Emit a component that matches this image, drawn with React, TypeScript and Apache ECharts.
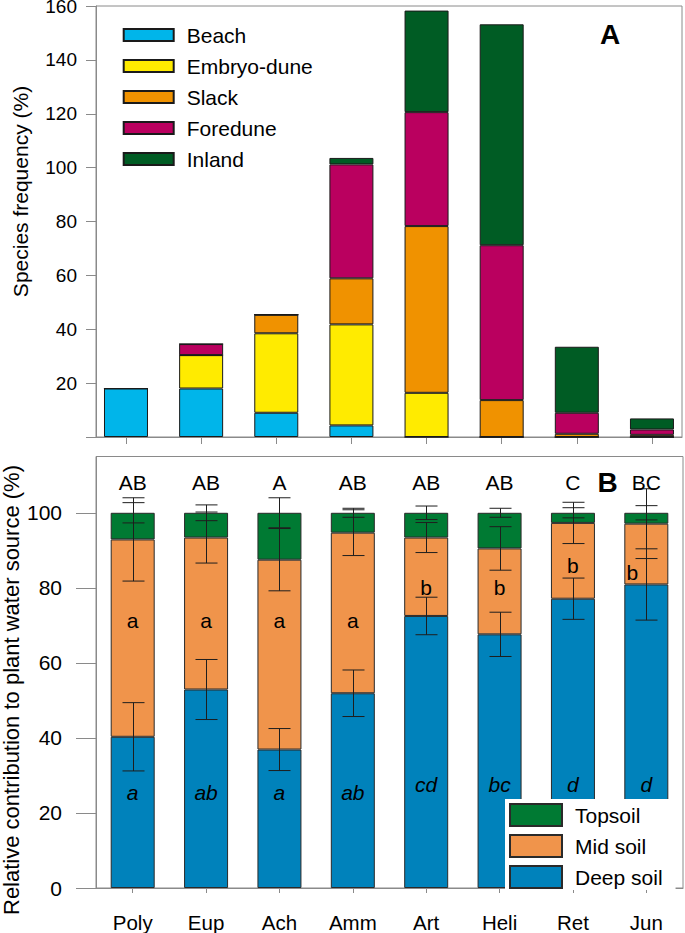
import React, { useEffect, useRef } from "react";
import * as echarts from "echarts";

// ---------- data ----------
const categories = ["Poly", "Eup", "Ach", "Amm", "Art", "Heli", "Ret", "Jun"];

// Panel A: species frequency (%) by habitat
const beach = [18, 18, 9, 4.3, 0, 0, 0, 0];
const embryoDune = [0, 12.4, 29.5, 37.5, 16.4, 0, 0, 0];
const slack = [0, 0, 6.9, 17.1, 61.9, 13.7, 1.2, 0.8];
const foredune = [0, 4.1, 0, 42.3, 42.3, 57.5, 7.8, 2.0];
const inland = [0, 0, 0, 2.4, 37.7, 82, 24.5, 4.1];
const freqTickLabels = [20, 40, 60, 80, 100, 120, 140, 160];

// Panel B: relative contribution to plant water source (%)
const deepSoil = [40.3, 52.9, 36.9, 51.9, 72.5, 67.6, 77.1, 80.9];
const midSoil = [52.6, 40.5, 50.6, 42.8, 20.9, 22.9, 20.2, 16.2];
const topSoil = [7.1, 6.6, 12.5, 5.3, 6.6, 9.5, 2.7, 2.9];
const deepErr = [9.1, 8.0, 5.6, 6.2, 5.0, 5.9, 5.5, 9.5];
const midErr = [11.1, 6.8, 8.3, 6.1, 4.0, 5.8, 5.5, 9.3];
const topErr = [2.7, 2.1, 4.0, 1.2, 1.8, 1.2, 1.35, 1.9];
const contribTickLabels = [0, 20, 40, 60, 80, 100];

const upperLetters = ["AB", "AB", "A", "AB", "AB", "AB", "C", "BC"];
const midLetters = ["a", "a", "a", "a", "b", "b", "b", "b"];
const deepLetters = ["a", "ab", "a", "ab", "cd", "bc", "d", "d"];

// ---------- layout constants (not data) ----------
const FONT = "Liberation Sans";
const upperLetterAt = 108.2;
const midLetterAt = [71.4, 71.4, 71.4, 71.4, 80.2, 80.2, 86.0, 84.2];
const midLetterShift = [0, 0, 0, 0, 0, 0, 0, -14];
const deepLetterAt = [25.4, 25.4, 25.4, 25.4, 27.7, 27.7, 27.7, 27.7];

const AXIS_GRAY = "#8a8a8a";

function buildOption() {
  const idx = categories.map((_, i) => i);

  const cumDeep = deepSoil.slice();
  const cumMid = deepSoil.map((v, i) => v + midSoil[i]);
  const cumTop = cumMid.map((v, i) => v + topSoil[i]);

  const topBar = (name: string, data: number[], color: string) => ({
    name,
    type: "bar",
    xAxisIndex: 2,
    yAxisIndex: 2,
    stack: "freq",
    barWidth: 44,
    data,
    itemStyle: { color, borderColor: "#1a1a1a", borderWidth: 1 },
  });

  const bottomBar = (name: string, data: number[], color: string) => ({
    name,
    type: "bar",
    xAxisIndex: 1,
    yAxisIndex: 1,
    stack: "water",
    barWidth: 44,
    data,
    itemStyle: { color, borderColor: "#2a2a2a", borderWidth: 1 },
  });

  const errSeries = (name: string, tops: number[], errs: number[]) => ({
    name,
    type: "custom",
    xAxisIndex: 1,
    yAxisIndex: 1,
    z: 3,
    data: tops.map((t, i) => [i, t, errs[i]]),
    renderItem: (params: any, api: any) => {
      const x = api.value(0);
      const y = api.value(1);
      const e = api.value(2);
      const hi = api.coord([x, y + e]);
      const lo = api.coord([x, y - e]);
      const cx = Math.round(hi[0]) + 0.5;
      const st = { stroke: "#1e1e1e", lineWidth: 1 };
      return {
        type: "group",
        children: [
          { type: "line", shape: { x1: cx, y1: hi[1], x2: cx, y2: lo[1] }, style: st },
          { type: "line", shape: { x1: cx - 11, y1: hi[1], x2: cx + 11, y2: hi[1] }, style: st },
          { type: "line", shape: { x1: cx - 11, y1: lo[1], x2: cx + 11, y2: lo[1] }, style: st },
        ],
      };
    },
  });

  const txt = (x: number, y: number, text: string, italic = false) => ({
    type: "text",
    x,
    y,
    style: {
      text,
      fill: "#000",
      fontSize: 21,
      fontFamily: FONT,
      fontStyle: italic ? "italic" : "normal",
      align: "center",
      verticalAlign: "middle",
      textAlign: "center",
      textVerticalAlign: "middle",
    },
  });

  const letterSeries = {
    name: "letters",
    type: "custom",
    xAxisIndex: 1,
    yAxisIndex: 1,
    z: 3,
    data: idx.map((i) => [i]),
    renderItem: (params: any, api: any) => {
      const i = params.dataIndex;
      const cx = api.coord([i, 0])[0];
      const yU = api.coord([i, upperLetterAt])[1];
      const yM = api.coord([i, midLetterAt[i]])[1];
      const yD = api.coord([i, deepLetterAt[i]])[1];
      return {
        type: "group",
        children: [
          txt(cx, yU, upperLetters[i]),
          txt(cx + midLetterShift[i], yM, midLetters[i]),
          txt(cx, yD, deepLetters[i], true),
        ],
      };
    },
  };

  const rotTitle = (x: number, y: number, text: string, fontSize: number) => ({
    type: "text",
    x,
    y,
    rotation: Math.PI / 2,
    style: {
      text,
      fontSize,
      fontFamily: FONT,
      fill: "#000",
      align: "center",
      verticalAlign: "middle",
      textAlign: "center",
      textVerticalAlign: "middle",
    },
  });

  const panelTag = (x: number, y: number, text: string) => ({
    type: "text",
    x,
    y,
    z: 10,
    style: {
      text,
      fontSize: 28,
      fontWeight: "bold",
      fontFamily: FONT,
      fill: "#000",
      align: "center",
      verticalAlign: "middle",
      textAlign: "center",
      textVerticalAlign: "middle",
    },
  });

  return {
    animation: false,
    backgroundColor: "#fff",
    textStyle: { fontFamily: FONT, color: "#000" },
    grid: [
      // 0: panel A frame + y axis
      {
        left: 96,
        top: 6,
        width: 586,
        height: 431,
        show: true,
        borderColor: AXIS_GRAY,
        borderWidth: 1,
        containLabel: false,
        outerBoundsMode: "none",
      },
      // 1: panel B
      {
        left: 96,
        top: 456.5,
        width: 587,
        height: 431.5,
        show: true,
        borderColor: AXIS_GRAY,
        borderWidth: 1,
        containLabel: false,
        outerBoundsMode: "none",
      },
      // 2: panel A bars (category bands)
      {
        left: 88.43,
        top: 6,
        width: 601.1,
        height: 431,
        show: false,
        containLabel: false,
        outerBoundsMode: "none",
      },
    ],
    xAxis: [
      {
        type: "value",
        gridIndex: 0,
        min: 0,
        max: 1,
        axisLine: { show: true, onZero: false, lineStyle: { color: AXIS_GRAY, width: 1 } },
        axisTick: { show: false },
        axisLabel: { show: false },
        splitLine: { show: false },
      },
      {
        type: "category",
        gridIndex: 1,
        data: categories,
        axisLine: { show: true, onZero: false, lineStyle: { color: AXIS_GRAY, width: 1 } },
        axisTick: {
          show: true,
          alignWithLabel: true,
          length: 5,
          lineStyle: { color: AXIS_GRAY },
        },
        axisLabel: { fontSize: 20.5, margin: 24, color: "#000", fontFamily: FONT },
        splitLine: { show: false },
      },
      {
        type: "category",
        gridIndex: 2,
        data: categories,
        axisLine: { show: false, onZero: false },
        axisTick: {
          show: true,
          alignWithLabel: true,
          length: 7,
          lineStyle: { color: AXIS_GRAY },
        },
        axisLabel: { show: false },
        splitLine: { show: false },
      },
    ],
    yAxis: [
      {
        type: "value",
        gridIndex: 0,
        min: 0,
        max: 160,
        interval: 20,
        axisLine: { show: true, onZero: false, lineStyle: { color: AXIS_GRAY, width: 1 } },
        axisTick: { show: true, length: 10, lineStyle: { color: AXIS_GRAY } },
        axisLabel: {
          fontSize: 19,
          margin: 19,
          color: "#000",
          fontFamily: FONT,
          customValues: freqTickLabels,
        },
        splitLine: { show: false },
      },
      {
        type: "value",
        gridIndex: 1,
        min: 0,
        max: 115,
        interval: 20,
        axisLine: { show: true, onZero: false, lineStyle: { color: AXIS_GRAY, width: 1 } },
        axisTick: {
          show: true,
          length: 20,
          customValues: contribTickLabels,
          lineStyle: { color: AXIS_GRAY },
        },
        axisLabel: {
          fontSize: 21,
          margin: 34,
          color: "#000",
          fontFamily: FONT,
          customValues: contribTickLabels,
        },
        splitLine: { show: false },
      },
      {
        type: "value",
        gridIndex: 2,
        min: 0,
        max: 160,
        interval: 20,
        show: false,
        splitLine: { show: false },
      },
    ],
    legend: [
      {
        data: ["Beach", "Embryo-dune", "Slack", "Foredune", "Inland"],
        orient: "vertical",
        left: 122.7,
        top: 24.5,
        padding: 0,
        itemWidth: 50,
        itemHeight: 12,
        itemGap: 10,
        icon: "rect",
        selectedMode: false,
        textStyle: { fontSize: 21, color: "#000", fontFamily: FONT, padding: [0, 0, 0, 8] },
      },
      {
        data: ["Topsoil", "Mid soil", "Deep soil"],
        orient: "vertical",
        left: 505,
        top: 799,
        padding: [4, 13, 1, 4],
        backgroundColor: "#fff",
        itemWidth: 52,
        itemHeight: 22,
        itemGap: 7,
        icon: "rect",
        selectedMode: false,
        textStyle: { fontSize: 21, color: "#000", fontFamily: FONT, padding: [0, 0, 0, 8] },
      },
    ],
    graphic: [
      rotTitle(20, 191.5, "Species frequency (%)", 21),
      rotTitle(11, 690, "Relative contribution to plant water source (%)", 22),
      panelTag(610, 34, "A"),
      panelTag(607.5, 482, "B"),
    ],
    series: [
      topBar("Beach", beach, "#00B5EA"),
      topBar("Embryo-dune", embryoDune, "#FFEB00"),
      topBar("Slack", slack, "#F09200"),
      topBar("Foredune", foredune, "#BA005F"),
      topBar("Inland", inland, "#005C24"),
      bottomBar("Deep soil", deepSoil, "#0082BB"),
      bottomBar("Mid soil", midSoil, "#F0944B"),
      bottomBar("Topsoil", topSoil, "#007A33"),
      errSeries("err-deep", cumDeep, deepErr),
      errSeries("err-mid", cumMid, midErr),
      errSeries("err-top", cumTop, topErr),
      letterSeries,
    ],
  };
}

export default function App() {
  const ref = useRef<HTMLDivElement>(null);
  useEffect(() => {
    if (!ref.current) return;
    const chart = echarts.init(ref.current, null, { renderer: "svg" });
    chart.setOption(buildOption() as any);
    return () => chart.dispose();
  }, []);
  return (
    <div
      ref={ref}
      style={{ position: "absolute", left: 0, top: 0, width: 685, height: 933 }}
    />
  );
}
